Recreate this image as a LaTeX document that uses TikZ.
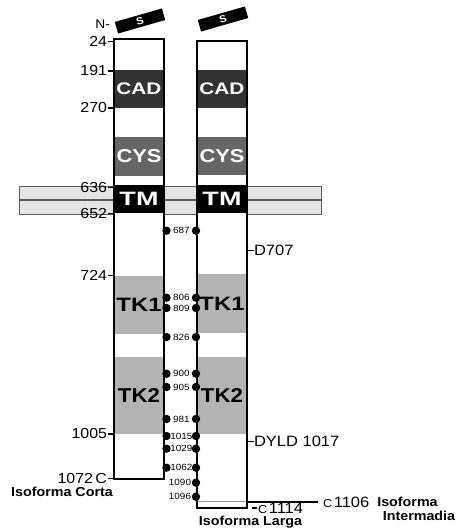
\documentclass[tikz,border=0pt]{standalone}
\usepackage{fontspec}
\usepackage{graphicx}
\setmainfont{Liberation Sans}[FakeStretch=1.1]
\definecolor{cadc}{HTML}{333333}
\definecolor{cysc}{HTML}{666666}
\definecolor{tkc}{HTML}{B3B3B3}
\definecolor{membc}{HTML}{E4E4E4}
\begin{document}
\begin{tikzpicture}[x=1pt,y=-1pt,
  every node/.style={inner sep=0pt, outer sep=0pt},
  boxfill/.style={fill=white, draw=none, minimum width=50pt, anchor=north west},
  boxline/.style={draw=black, line width=2.5pt},
  band/.style={minimum width=50pt, anchor=north west, text=white},
  memb/.style={fill=membc, draw=black!65, line width=0.8pt},
  dot/.style={circle, fill=black, minimum size=8.4pt},
  dotlbl/.style={font=\fontsize{9}{9}\selectfont},
  numlbl/.style={font=\fontsize{14.5}{15}\selectfont, anchor=east},
  rlbl/.style={font=\fontsize{15}{16}\selectfont, anchor=west},
  tick/.style={line width=1.3pt},
  iso/.style={font=\fontsize{13}{14}\selectfont\bfseries},
  sbox/.style={fill=black, text=white, minimum width=49pt, minimum height=12pt, rotate=16, font=\fontsize{10}{10}\selectfont\bfseries},
]
\useasboundingbox (0,0) rectangle (458,530);
% membrane
\path[memb] (19,186) rectangle (321,199.5);
\path[memb] (19,200.5) rectangle (321,214);
% boxes (fill)
\node[boxfill, minimum height=440pt] (lbox) at (114,39) {};
\node[boxfill, minimum height=467pt] (rbox) at (197,41) {};
% left bands
\node[band, fill=cadc, minimum height=38pt] (lcad) at (114,70) {\resizebox{45pt}{11.7pt}{\bfseries CAD}};
\node[band, fill=cysc, minimum height=39pt] (lcys) at (114,137) {\resizebox{45pt}{13pt}{\bfseries CYS}};
\node[band, fill=black, minimum height=28pt] (ltm) at (114,185) {\resizebox{39pt}{13.3pt}{\bfseries TM}};
\node[band, fill=tkc, text=black, minimum height=58pt] (ltk1) at (114,276) {\resizebox{45pt}{13.3pt}{\bfseries TK1}};
\node[band, fill=tkc, text=black, minimum height=77pt] (ltk2) at (114,357) {\resizebox{42pt}{14pt}{\bfseries TK2}};
% right bands
\node[band, fill=cadc, minimum height=38pt] (rcad) at (197,70) {\resizebox{45pt}{11.7pt}{\bfseries CAD}};
\node[band, fill=cysc, minimum height=38pt] (rcys) at (197,137) {\resizebox{45pt}{13pt}{\bfseries CYS}};
\node[band, fill=black, minimum height=28pt] (rtm) at (197,185) {\resizebox{39pt}{13.3pt}{\bfseries TM}};
\node[band, fill=tkc, text=black, minimum height=59pt] (rtk1) at (197,274) {\resizebox{45pt}{13.3pt}{\bfseries TK1}};
\node[band, fill=tkc, text=black, minimum height=77pt] (rtk2) at (197,357) {\resizebox{42pt}{14pt}{\bfseries TK2}};
% inner grey line of right box
\draw[black!40, line width=1pt] (rbox.west |- 0,501.7) -- (rbox.east |- 0,501.7);
% outlines
\draw[boxline] (lbox.north west) rectangle (lbox.south east);
\draw[boxline] (rbox.north west) rectangle (rbox.south east);
% signal peptides
\node[sbox] (s1) at (140,21) {S};
\node[sbox] (s2) at (223,19) {S};
\node[font=\fontsize{12.5}{13}\selectfont, anchor=east] (nlbl) at (110,24) {N-};
% left numeric labels
\foreach \t/\y/\nm in {24/41.5/a, 191/71/b, 270/108/c, 636/187.5/d, 652/213.5/e, 724/275.5/f, 1005/434/g}{
  \node[numlbl] (n\nm) at (107,\y) {\t};
  \draw[tick] ([xshift=1pt]n\nm.east) -- (n\nm.east -| lbox.west);
}
\node[numlbl] (nh) at (107,478.5) {1072\,C};
\draw[tick] ([xshift=1pt]nh.east) -- (nh.east -| lbox.west);
\node[iso] (icorta) at (62,492) {Isoforma Corta};
% dots
\foreach \n/\y in {687/230.7, 806/297.7, 809/308, 826/337, 900/373.7, 905/387, 981/419, 1015/436, 1029/448.7, 1062/467.7}{
  \node[dot] (l\n) at (166.5,\y) {};
  \node[dot] (r\n) at (196,\y) {};
  \node[dotlbl] (t\n) at (181.3,\y) {\n};
}
\foreach \n/\y in {1090/482.7, 1096/496.7}{
  \node[dot] (r\n) at (196,\y) {};
  \node[dotlbl] (t\n) at (180,\y) {\n};
}
% right labels
\node[rlbl] (d707) at (254,250.5) {D707};
\draw[tick] (d707.west) -- (d707.west -| rbox.east);
\node[rlbl] (dyld) at (254,441.5) {DYLD 1017};
\draw[tick] (dyld.west) -- (dyld.west -| rbox.east);
\node[anchor=west] (c1114) at (258,508) {{\fontsize{11.5}{12}\selectfont C}\,{\fontsize{15}{15}\selectfont 1114}};
\draw[tick] ([xshift=-1pt]c1114.west) -- ([xshift=-6pt]c1114.west);
\node[anchor=west] (c1106) at (323,502) {{\fontsize{11.5}{12}\selectfont C}\,{\fontsize{15}{15}\selectfont 1106}};
\draw[line width=1.3pt] (c1106.west -| rbox.east) -- ([xshift=-5pt]c1106.west);
\node[iso] (ilarga) at (250.5,522) {Isoforma Larga};
\node[iso] (iint1) at (407.5,501.5) {Isoforma};
\node[iso] (iint2) at (419,516) {Intermadia};
\end{tikzpicture}
\end{document}
